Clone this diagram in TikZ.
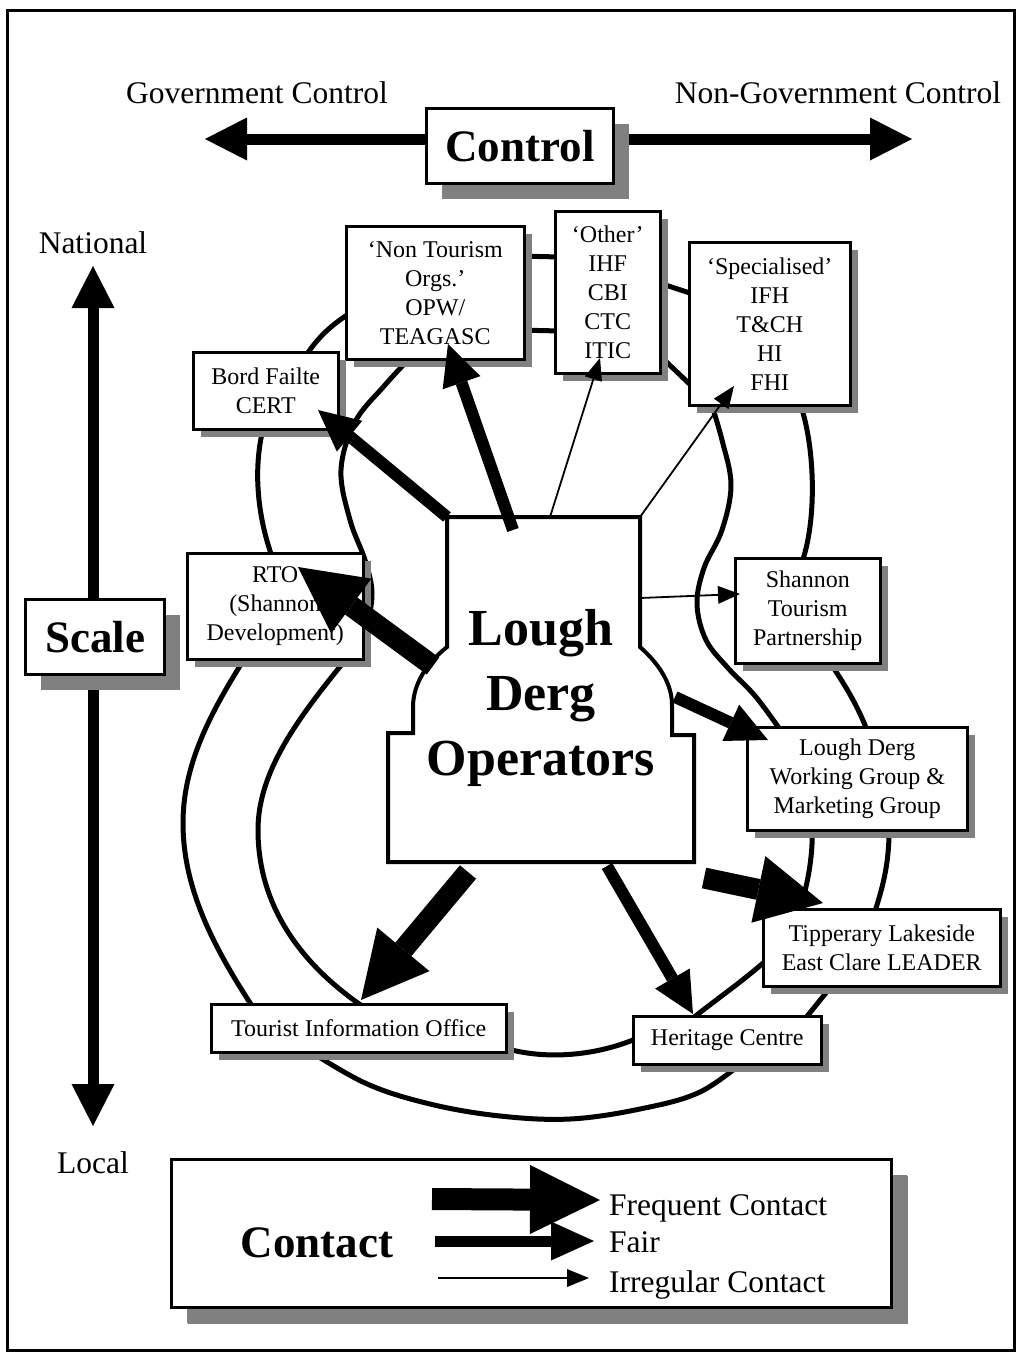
\documentclass[tikz,border=0pt]{standalone}
\usepackage{fontspec}
\setmainfont{Liberation Serif}
\usetikzlibrary{arrows.meta,shadows}
\newcommand\boxfnt{\fontsize{24}{29}\selectfont}
\newcommand\lblfnt{\fontsize{31.5}{38}\selectfont}
\newcommand\bigfnt{\fontsize{45}{54}\selectfont\bfseries}
\newcommand\ctrfnt{\fontsize{52}{65}\selectfont\bfseries}
\begin{document}
\begin{tikzpicture}[x=1pt,y=-1pt,
  bx/.style={draw, line width=2.5pt, fill=white, inner sep=0pt, align=center, anchor=north west, font=\boxfnt,
    drop shadow={shadow xshift=8pt, shadow yshift=-8pt, fill=black!50, opacity=1}},
  bigbx/.style={draw, line width=3pt, fill=white, inner sep=0pt, align=center, anchor=north west, font=\bigfnt,
    drop shadow={shadow xshift=15pt, shadow yshift=-15pt, fill=black!50, opacity=1}},
  ring/.style={line width=5pt},
  freq/.style={line width=21pt, -{Triangle[length=66pt,width=68pt,line width=0pt]}},
  fair/.style={line width=12pt, -{Triangle[length=41pt,width=40pt,line width=0pt]}},
  irreg/.style={line width=1.8pt, -{Triangle[length=22pt,width=18pt,line width=0pt]}},
  axisarr/.style={line width=11pt, -{Triangle[length=42pt,width=43pt,line width=0pt]}},
  lbl/.style={font=\lblfnt, inner sep=0pt}
]
\useasboundingbox (0,0) rectangle (1019,1353);
\fill[white] (0,0) rectangle (1019,1353);
\draw[line width=3pt] (7,10) rectangle (1014,1350);

% ---------- outer ring (pieces between boxes) ----------
\draw[ring] (515,330) -- (561,331);
\draw[ring] (657,353) -- (698,392);
\draw[ring] (798,398) .. controls (815,440) and (818,520) .. (801,565);
\draw[ring] (825,655) .. controls (845,685) and (858,705) .. (870,738);
\draw[ring] (889,820) .. controls (890,860) and (884,885) .. (872,920);
\draw[ring] (838,978) -- (800,1025);
\draw[ring] plot[smooth, tension=0.6] coordinates {(748,1058) (700,1092) (640,1109) (570,1119) (500,1116) (430,1104) (365,1083) (300,1045)};
\draw[ring] (250,650) .. controls (215,705) and (183,760) .. (183,823)
            .. controls (183,890) and (215,950) .. (256,1012);
\draw[ring] (264,425) .. controls (252,470) and (258,520) .. (274,562);
\draw[ring] (302,362) .. controls (315,340) and (330,325) .. (355,310);

% ---------- inner ring ----------
\draw[ring] (515,256) -- (561,257);
\draw[ring] (650,280) -- (696,295);
\draw[ring] plot[smooth, tension=0.6] coordinates {(709,396) (722,440) (731,485) (722,530) (704,568) (697,604) (706,640) (728,668) (756,697) (786,738)};
\draw[ring] (812,820) .. controls (814,860) and (806,890) .. (797,920);
\draw[ring] (772,955) .. controls (745,980) and (715,1000) .. (688,1022);
\draw[ring] (640,1037) .. controls (600,1055) and (545,1062) .. (498,1046);
\draw[ring] (352,652) .. controls (300,715) and (258,770) .. (258,830)
            .. controls (258,905) and (300,965) .. (368,1010);
\draw[ring] plot[smooth, tension=0.6] coordinates {(350,652) (366,625) (372,593) (365,560) (350,520) (341,470) (355,422) (385,385) (410,358)};

% ---------- boxes ----------
\node[bx, minimum width=178pt, minimum height=133pt] (nt) at (345,225) {‘Non Tourism\\Orgs.’\\OPW/\\TEAGASC};
\node[bx, minimum width=105pt, minimum height=162pt] (oth) at (554,210) {‘Other’\\IHF\\CBI\\CTC\\ITIC};
\node[bx, minimum width=161pt, minimum height=163pt] (spec) at (688,241) {‘Specialised’\\IFH\\T\&CH\\HI\\FHI};
\node[bx, minimum width=145pt, minimum height=77pt] (bf) at (192,351) {Bord Failte\\CERT};
\node[bx, minimum width=176pt, minimum height=106pt] (rto) at (186,552) {RTO\\(Shannon\\Development)};
\node[bx, minimum width=145pt, minimum height=105pt] (stp) at (734,557) {Shannon\\Tourism\\Partnership};
\node[bx, minimum width=220pt, minimum height=103pt] (ldwg) at (746,726) {Lough Derg\\Working Group \&\\Marketing Group};
\node[bx, minimum width=237pt, minimum height=77pt] (tip) at (762,908) {Tipperary Lakeside\\East Clare LEADER};
\node[bx, minimum width=295pt, minimum height=48pt] (tio) at (210,1003) {Tourist Information Office};
\node[bx, minimum width=188pt, minimum height=48pt] (her) at (632,1015) {Heritage Centre};

% ---------- centre ----------
\draw[line width=4pt, fill=white] (447,517) -- (640,517) -- (640,647)
  .. controls (657,662) and (672,682) .. (672,705) -- (672,735) -- (694,735) -- (694,862)
  -- (388,862) -- (388,733) -- (413,733) -- (413,707)
  .. controls (413,683) and (428,662) .. (447,647) -- cycle;
\node[font=\ctrfnt, align=center, inner sep=0pt] (ldo) at (541,698) {Lough\\Derg\\Operators};

% ---------- contact arrows ----------
\coordinate (sBF) at (447,517);  \coordinate (tBF) at (318,410);
\coordinate (sNT) at (513,530);  \coordinate (tNT) at (448,344);
\coordinate (sOT) at (550,517);  \coordinate (tOT) at (600,358);
\coordinate (sSP) at (640,517);  \coordinate (tSP) at (734,386);
\coordinate (sRT) at (433,666);  \coordinate (tRT) at (298,567);
\coordinate (sST) at (640,598);  \coordinate (tST) at (740,594);
\coordinate (sLD) at (675,697);  \coordinate (tLD) at (768,740);
\coordinate (sTP) at (704,878);  \coordinate (tTP) at (823,903);
\coordinate (sTI) at (468,872);  \coordinate (tTI) at (361,1000);
\coordinate (sHE) at (607,866);  \coordinate (tHE) at (693,1014);
\draw[fair] (sBF) -- (tBF);
\draw[fair] (sNT) -- (tNT);
\draw[irreg] (sOT) -- (tOT);
\draw[irreg] (sSP) -- (tSP);
\draw[freq] (sRT) -- (tRT);
\draw[irreg] (sST) -- (tST);
\draw[fair] (sLD) -- (tLD);
\draw[freq] (sTP) -- (tTP);
\draw[freq] (sTI) -- (tTI);
\draw[fair] (sHE) -- (tHE);

% ---------- control axis ----------
\node[lbl, anchor=base] (gov) at (257,103) {Government Control};
\node[lbl, anchor=base] (ngov) at (838,103) {Non-Government Control};
\coordinate (cL) at (205,139); \coordinate (cR) at (912,139);
\coordinate (cLs) at (440,139); \coordinate (cRs) at (600,139);
\draw[axisarr] (cLs) -- (cL);
\draw[axisarr] (cRs) -- (cR);
\node[bigbx, minimum width=187pt, minimum height=75pt] (ctrl) at (425,107) {Control};

% ---------- scale axis ----------
\node[lbl] (nat) at (93,243) {National};
\node[lbl] (loc) at (93,1163) {Local};
\coordinate (sU) at (93,266); \coordinate (sD) at (93,1126);
\coordinate (sUs) at (93,620); \coordinate (sDs) at (93,650);
\draw[axisarr] (sUs) -- (sU);
\draw[axisarr] (sDs) -- (sD);
\node[bigbx, minimum width=139pt, minimum height=75pt] (scl) at (24,598) {Scale};

% ---------- legend ----------
\node[bigbx, minimum width=720pt, minimum height=148pt, drop shadow={shadow xshift=16pt, shadow yshift=-16pt, fill=black!50, opacity=1}] (leg) at (170,1158) {};
\node[font=\bigfnt, anchor=base, inner sep=0pt] (cont) at (317,1257) {Contact};
\coordinate (lf1) at (432,1199); \coordinate (lf2) at (600,1200);
\coordinate (la1) at (435,1241); \coordinate (la2) at (594,1241);
\coordinate (li1) at (438,1278); \coordinate (li2) at (589,1278);
\draw[line width=22pt, -{Triangle[length=70pt,width=69pt,line width=0pt]}] (lf1) -- (lf2);
\draw[line width=11pt, -{Triangle[length=43pt,width=39pt,line width=0pt]}] (la1) -- (la2);
\draw[irreg] (li1) -- (li2);
\node[lbl, anchor=base west] (lfreq) at (609,1215) {Frequent Contact};
\node[lbl, anchor=base west] (lfair) at (609,1252) {Fair};
\node[lbl, anchor=base west] (lirr) at (609,1292) {Irregular Contact};
\end{tikzpicture}
\end{document}
